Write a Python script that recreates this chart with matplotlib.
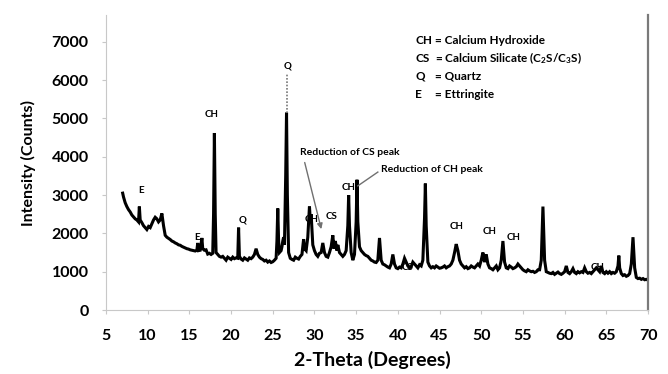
import numpy as np
import matplotlib
matplotlib.use("Agg")
import matplotlib.pyplot as plt

plt.rcParams['font.family'] = ['Lato', 'DejaVu Sans']
plt.rcParams['font.weight'] = 'bold'
plt.rcParams['mathtext.fontset'] = 'custom'
plt.rcParams['mathtext.rm'] = 'Lato:bold'
plt.rcParams['mathtext.bf'] = 'Lato:bold'
plt.rcParams['mathtext.default'] = 'rm'

# XRD trace (2-theta, counts)
two_theta = [
    7.0, 7.1, 7.3, 7.5, 7.7, 7.9, 8.1, 8.3, 8.5, 8.7, 8.9, 9.0, 9.1, 9.3, 9.5, 9.7, 9.9,
    10.1, 10.3, 10.5, 10.7, 10.9, 11.1, 11.3, 11.5, 11.7, 11.9, 12.1, 12.3, 12.5, 12.7, 12.9,
    13.1, 13.3, 13.5, 13.7, 13.9, 14.1, 14.3, 14.5, 14.7, 14.9, 15.1, 15.3, 15.5, 15.7, 15.9,
    16.0, 16.1, 16.3, 16.5, 16.6, 16.8, 17.0, 17.2, 17.4, 17.6, 17.8, 17.9, 18.0, 18.1, 18.2,
    18.4, 18.6, 18.8, 19.0, 19.2, 19.4, 19.6, 19.8, 20.0, 20.2, 20.4, 20.6, 20.8, 20.9, 21.0,
    21.2, 21.4, 21.6, 21.8, 22.0, 22.2, 22.4, 22.6, 22.8, 23.0, 23.2, 23.4, 23.6, 23.8, 24.0,
    24.2, 24.4, 24.6, 24.8, 25.0, 25.2, 25.4, 25.5, 25.6, 25.7, 25.8, 26.0, 26.1, 26.2, 26.3,
    26.4, 26.55, 26.65, 26.75, 26.9, 27.1, 27.3, 27.5, 27.7, 27.9, 28.1, 28.3, 28.5, 28.7,
    28.8, 29.0, 29.2, 29.4, 29.5, 29.6, 29.8, 30.0, 30.2, 30.4, 30.6, 30.8, 31.0, 31.2, 31.4,
    31.6, 31.8, 32.0, 32.2, 32.35, 32.5, 32.7, 32.8, 33.0, 33.2, 33.4, 33.6, 33.8, 34.0, 34.1,
    34.2, 34.4, 34.6, 34.8, 35.0, 35.1, 35.2, 35.4, 35.6, 35.8, 36.0, 36.2, 36.4, 36.6, 36.8,
    37.0, 37.2, 37.4, 37.6, 37.8, 38.0, 38.2, 38.4, 38.6, 38.8, 39.0, 39.2, 39.4, 39.6, 39.8,
    40.0, 40.2, 40.4, 40.6, 40.8, 41.0, 41.2, 41.4, 41.6, 41.8, 42.0, 42.2, 42.4, 42.6, 42.8,
    43.0, 43.2, 43.3, 43.4, 43.6, 43.8, 44.0, 44.2, 44.4, 44.6, 44.8, 45.0, 45.2, 45.4, 45.6,
    45.8, 46.0, 46.2, 46.4, 46.6, 46.8, 47.0, 47.2, 47.4, 47.6, 47.8, 48.0, 48.2, 48.4, 48.6,
    48.8, 49.0, 49.2, 49.4, 49.6, 49.8, 50.0, 50.2, 50.4, 50.6, 50.8, 51.0, 51.2, 51.4, 51.6,
    51.8, 52.0, 52.2, 52.4, 52.6, 52.8, 53.0, 53.2, 53.4, 53.6, 53.8, 54.0, 54.2, 54.4, 54.6,
    54.8, 55.0, 55.2, 55.4, 55.6, 55.8, 56.0, 56.2, 56.4, 56.6, 56.8, 57.0, 57.2, 57.4, 57.6,
    57.8, 58.0, 58.2, 58.4, 58.6, 58.8, 59.0, 59.2, 59.4, 59.6, 59.8, 60.0, 60.2, 60.4, 60.6,
    60.8, 61.0, 61.2, 61.4, 61.6, 61.8, 62.0, 62.2, 62.4, 62.6, 62.8, 63.0, 63.2, 63.4, 63.6,
    63.8, 64.0, 64.2, 64.4, 64.6, 64.8, 65.0, 65.2, 65.4, 65.6, 65.8, 66.0, 66.2, 66.4, 66.5,
    66.6, 66.8, 67.0, 67.2, 67.4, 67.6, 67.8, 68.0, 68.2, 68.4, 68.6, 68.8, 69.0, 69.2, 69.4,
    69.6, 69.8, 70.0,
]
counts = [
    3050, 2950, 2800, 2700, 2620, 2560, 2480, 2430, 2380, 2350, 2300, 2700, 2350, 2280, 2200, 2150, 2100,
    2180, 2150, 2250, 2350, 2420, 2380, 2300, 2350, 2520, 2200, 1950, 1900, 1870, 1840, 1800,
    1780, 1750, 1730, 1700, 1690, 1660, 1640, 1620, 1600, 1590, 1570, 1560, 1550, 1540, 1560,
    1750, 1550, 1560, 1880, 1600, 1560, 1570, 1460, 1480, 1450, 1480, 2500, 4620, 2500, 1500,
    1450, 1400, 1380, 1400, 1350, 1300, 1380, 1350, 1320, 1380, 1340, 1360, 1350, 2150, 1400,
    1330, 1300, 1360, 1330, 1300, 1360, 1340, 1380, 1450, 1600, 1450, 1380, 1340, 1320, 1280,
    1300, 1250, 1280, 1240, 1260, 1300, 1350, 1800, 2650, 1800, 1500, 1550, 1650, 1800, 1900,
    1700, 3500, 5150, 3000, 1500, 1350, 1320, 1300, 1380, 1350, 1330, 1400, 1450, 1850,
    1600, 1550, 1900, 2700, 2350, 2500, 1700, 1550, 1450, 1400, 1480, 1500, 1750, 1500, 1400,
    1380, 1500, 1650, 1950, 1600, 1800, 1550, 1700, 1500, 1450, 1400, 1450, 1550, 2200, 3000,
    2200, 1500, 1300, 1450, 2300, 3400, 2300, 1650, 1550, 1500, 1450, 1420, 1400, 1350, 1300,
    1280, 1250, 1240, 1300, 1880, 1300, 1200, 1180, 1150, 1120, 1100, 1200, 1450, 1200, 1100,
    1080, 1120, 1100, 1200, 1350, 1250, 1150, 1100, 1130, 1250, 1200, 1150, 1100, 1180, 1150,
    1300, 2400, 3300, 2200, 1250, 1150, 1100, 1130, 1100, 1150, 1120, 1090, 1100, 1120, 1150,
    1100, 1130, 1150, 1200, 1300, 1500, 1720, 1550, 1300, 1200, 1150, 1100, 1130, 1080, 1100,
    1150, 1120, 1100, 1150, 1200, 1150, 1300, 1500, 1250, 1450, 1200, 1100, 1080, 1050, 1100,
    1150, 1050, 1100, 1300, 1800, 1250, 1100, 1080, 1150, 1120, 1080, 1100, 1130, 1200, 1150,
    1100, 1050, 1020, 1000, 1050, 1020, 1000, 1010, 980, 1000, 1050, 1050, 1300, 2700, 1300,
    1000, 980, 960, 950, 980, 930, 960, 990, 950, 930, 960, 1000, 1150, 980, 950,
    1000, 1080, 980, 950, 1000, 970, 1000, 980, 1100, 1000, 960, 980, 950, 1000, 1050,
    1100, 1050, 1000, 1150, 980, 950, 1000, 960, 1000, 950, 980, 960, 1000, 1150, 1420,
    1100, 950, 900, 920, 880, 900, 950, 1200, 1900, 1100, 850, 820, 830, 800, 820,
    790, 800, 780,
]

# dotted top of the quartz peak
q_peak_x = 26.65
q_peak_span = [5150, 6150]

# peak labels: (text, 2-theta, counts)
peak_labels = [
    ("E", 9.2, 3110), ("E", 15.9, 1880), ("CH", 17.6, 5090), ("Q", 21.4, 2350),
    ("Q", 26.8, 6370), ("CH", 29.6, 2350), ("CS", 32.1, 2430), ("CH", 34.1, 3210),
    ("CS", 41.2, 1120), ("CH", 47.0, 2190), ("CH", 51.0, 2040), ("CH", 53.9, 1880),
    ("CH", 64.0, 1100),
]

legend_keys = ["CH", "CS", "Q", "E"]
legend_names = ["= Calcium Hydroxide", "= Calcium Silicate (C$_2$S/C$_3$S)",
                "= Quartz", "= Ettringite"]

W, H = 668, 374
fig = plt.figure(figsize=(W / 100, H / 100), dpi=100)
ax = fig.add_axes([106 / W, 1 - 310 / H, (648 - 106) / W, (310 - 15) / H])

ax.plot(two_theta, counts, color='black', lw=2.2, solid_joinstyle='miter')
ax.plot([q_peak_x, q_peak_x], q_peak_span, color='#777777', lw=1.2, ls=(0, (1, 1)))

ax.set_xlim(5, 70)
ax.set_ylim(0, 7700)
ax.set_xticks(np.arange(5, 71, 5))
ax.set_yticks(np.arange(0, 7001, 1000))

ax.spines['top'].set_visible(False)
ax.spines['left'].set_color('#c8c8c8')
ax.spines['bottom'].set_color('#c8c8c8')
ax.spines['right'].set_color('#7a7a7a')
ax.spines['right'].set_linewidth(1.6)
ax.tick_params(direction='out', length=3, color='#c8c8c8', labelsize=11.5)
ax.tick_params(axis='x', pad=10.5)
ax.tick_params(axis='y', pad=9.5)
for lab in ax.get_xticklabels() + ax.get_yticklabels():
    lab.set_fontweight('bold')

ax.set_ylabel("Intensity (Counts)", fontsize=11.5, fontweight='bold')
ax.yaxis.set_label_coords((36 - 106) / 542, 0.5)
ax.set_xlabel("2-Theta (Degrees)", fontsize=14, fontweight='bold')
ax.xaxis.set_label_coords((372 - 106) / 542, (310 - 351) / 295)

for txt, x, y in peak_labels:
    ax.text(x, y, txt, fontsize=7, fontweight='bold', ha='center', va='center')

ax.annotate("", xy=(30.9, 2040), xytext=(28.75, 3920),
            arrowprops=dict(arrowstyle='-|>', color='#707070', lw=1, mutation_scale=8))
ax.text(28.25, 4100, "Reduction of CS peak", fontsize=7.5, fontweight='bold',
        ha='left', va='center')
ax.plot([37.6, 35.2], [3600, 3240], color='#707070', lw=1)
ax.text(38.0, 3656, "Reduction of CH peak", fontsize=7.5, fontweight='bold',
        ha='left', va='center')

for i, (k, n) in enumerate(zip(legend_keys, legend_names)):
    yy = 1 - [40, 58, 76, 95][i] / H
    fig.text(415 / W, yy, k, fontsize=8.5, fontweight='bold', ha='left', va='center')
    fig.text(435 / W, yy, n, fontsize=8.5, fontweight='bold', ha='left', va='center')

fig.savefig("out.png", dpi=100)
